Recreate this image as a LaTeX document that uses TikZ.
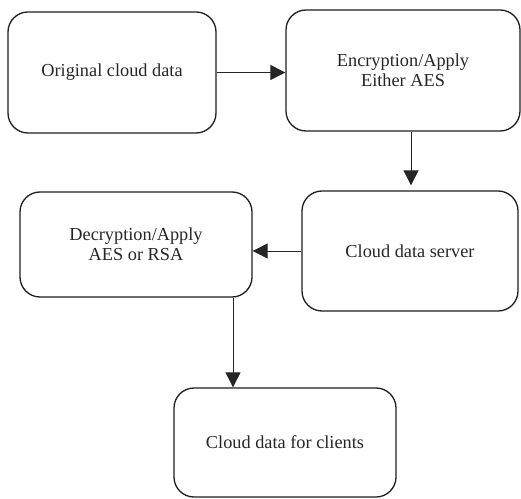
\documentclass[tikz,border=0pt]{standalone}
\usepackage{fontspec}
\setmainfont{Liberation Serif}
\usetikzlibrary{arrows.meta}
\begin{document}
\begin{tikzpicture}[x=1pt,y=1pt,
  box/.style={draw=black!88, line width=1.3pt, rounded corners=20pt, align=center,
    inner sep=0pt, font=\fontsize{18.3}{20}\selectfont, text=black!85},
  arr/.style={draw=black!85, line width=0.9pt, -{Triangle[length=15pt,width=15pt]}}]
\useasboundingbox (0,0) rectangle (521,498);
\node[box, minimum width=208pt, minimum height=121pt] (b1) at (112,425.5) {Original cloud data};
\node[box, minimum width=234pt, minimum height=121pt] (b2) at (403,427.5) {Encryption/Apply\\Either AES};
\node[box, minimum width=216pt, minimum height=120pt] (b3) at (410,247) {Cloud data server};
\node[box, minimum width=232pt, minimum height=105pt] (b4) at (136,253.5) {Decryption/Apply\\AES or RSA};
\node[box, minimum width=222pt, minimum height=109pt] (b5) at (285,55.5) {Cloud data for clients};
\draw[arr] (b1.east) -- (b2.west |- b1.east);
\draw[arr] ([xshift=8pt]b2.south) -- ([xshift=1pt,yshift=5pt]b3.north);
\draw[arr] (b3.west) -- (b4.east |- b3.west);
\draw[arr] ([xshift=97pt]b4.south) -- ([xshift=-52pt]b5.north);
\end{tikzpicture}
\end{document}
